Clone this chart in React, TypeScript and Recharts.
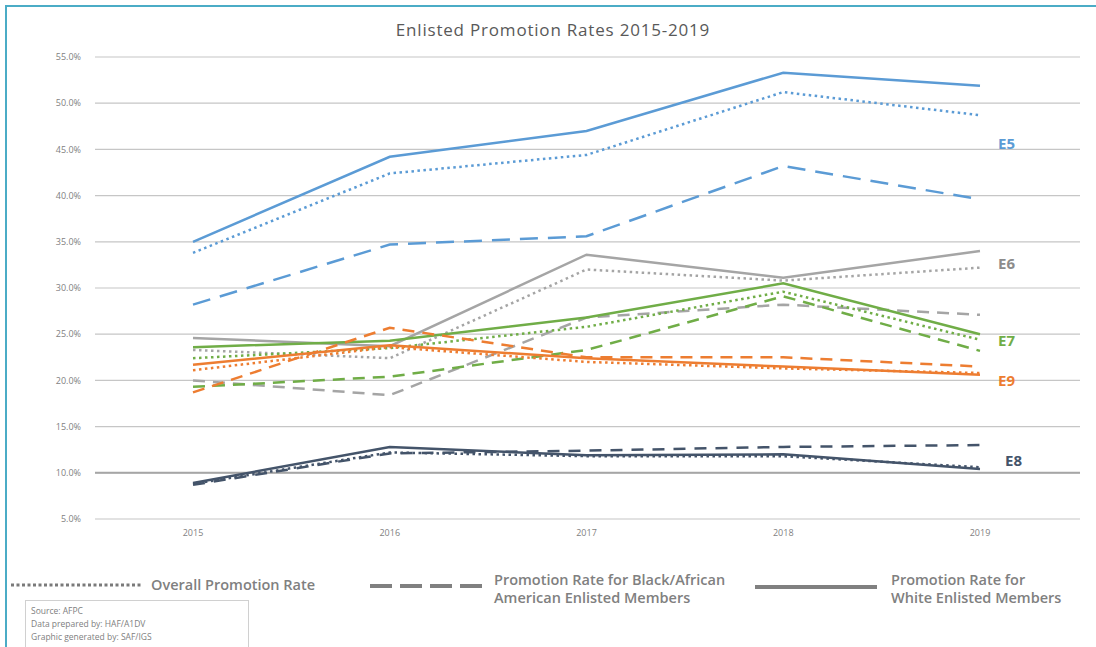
import { LineChart, Line, XAxis, YAxis, CartesianGrid, ReferenceLine, ReferenceDot } from 'recharts';

const years = ['2015', '2016', '2017', '2018', '2019'];
const yTicks = [5, 10, 15, 20, 25, 30, 35, 40, 45, 50, 55];

const e5Overall = [33.8, 42.4, 44.4, 51.2, 48.7];
const e5Black = [28.2, 34.7, 35.6, 43.2, 39.6];
const e5White = [35.0, 44.2, 47.0, 53.3, 51.9];
const e6Overall = [23.3, 22.4, 32.0, 30.8, 32.2];
const e6Black = [20.0, 18.4, 26.8, 28.2, 27.1];
const e6White = [24.6, 23.7, 33.6, 31.1, 34.0];
const e7Overall = [22.4, 23.5, 25.8, 29.6, 24.4];
const e7Black = [19.3, 20.4, 23.3, 29.1, 23.2];
const e7White = [23.6, 24.3, 26.8, 30.5, 25.0];
const e9Overall = [21.1, 23.6, 22.0, 21.3, 20.8];
const e9Black = [18.7, 25.7, 22.5, 22.5, 21.5];
const e9White = [21.7, 23.8, 22.4, 21.5, 20.6];
const e8Overall = [8.8, 12.2, 11.8, 11.8, 10.6];
const e8Black = [8.7, 12.1, 12.4, 12.8, 13.0];
const e8White = [8.9, 12.8, 11.9, 12.0, 10.4];

// grade tags at the right end of each group
const gradeTags = [
  { name: 'E5', value: 45.6, color: '#5B9BD5', dx: 18 },
  { name: 'E6', value: 32.6, color: '#8C8C8C', dx: 18 },
  { name: 'E7', value: 24.3, color: '#70AD47', dx: 18 },
  { name: 'E9', value: 20.0, color: '#ED7D31', dx: 18 },
  { name: 'E8', value: 11.3, color: '#44546A', dx: 25 },
];

const data = years.map((year, i) => ({
  year,
  e5Overall: e5Overall[i], e5Black: e5Black[i], e5White: e5White[i],
  e6Overall: e6Overall[i], e6Black: e6Black[i], e6White: e6White[i],
  e7Overall: e7Overall[i], e7Black: e7Black[i], e7White: e7White[i],
  e9Overall: e9Overall[i], e9Black: e9Black[i], e9White: e9White[i],
  e8Overall: e8Overall[i], e8Black: e8Black[i], e8White: e8White[i],
}));

const DOT = '2.5 3.5';

interface SeriesDef {
  key: string;
  color: string;
  dash?: string;
  width: number;
}

const series: SeriesDef[] = [
  { key: 'e6Black', color: '#A5A5A5', dash: '12 8', width: 2.5 },
  { key: 'e6Overall', color: '#A5A5A5', dash: DOT, width: 2.5 },
  { key: 'e6White', color: '#A5A5A5', width: 2.5 },
  { key: 'e7Black', color: '#70AD47', dash: '12 8', width: 2.5 },
  { key: 'e7Overall', color: '#70AD47', dash: DOT, width: 2.5 },
  { key: 'e7White', color: '#70AD47', width: 2.5 },
  { key: 'e9Black', color: '#ED7D31', dash: '12 8', width: 2.5 },
  { key: 'e9Overall', color: '#ED7D31', dash: DOT, width: 2.5 },
  { key: 'e9White', color: '#ED7D31', width: 2.5 },
  { key: 'e5Black', color: '#5B9BD5', dash: '18 10', width: 2.5 },
  { key: 'e5Overall', color: '#5B9BD5', dash: DOT, width: 2.5 },
  { key: 'e5White', color: '#5B9BD5', width: 2.5 },
  { key: 'e8Black', color: '#44546A', dash: '12 9', width: 2.5 },
  { key: 'e8Overall', color: '#44546A', dash: DOT, width: 2.5 },
  { key: 'e8White', color: '#44546A', width: 2.5 },
];

const legendText = {
  position: 'absolute' as const,
  fontFamily: 'Open Sans, sans-serif',
  fontWeight: 600,
  fontSize: 14.5,
  color: '#808080',
  lineHeight: '18px',
};

export default function App() {
  return (
    <div style={{ position: 'absolute', left: 0, top: 0, width: 1096, height: 647, background: '#fff', overflow: 'hidden' }}>
      <div style={{ position: 'absolute', left: 5, top: 5, width: 1100, height: 2, background: '#4BACC6' }} />
      <div style={{ position: 'absolute', left: 5, top: 5, width: 2, height: 660, background: '#4BACC6' }} />
      <div
        style={{
          position: 'absolute', left: 0, top: 18, width: 1106, textAlign: 'center',
          fontFamily: 'Open Sans, sans-serif', fontSize: 17, letterSpacing: 0.8, color: '#595959',
        }}
      >
        Enlisted Promotion Rates 2015-2019
      </div>
      <LineChart
        width={1096}
        height={647}
        data={data}
        margin={{ top: 57, right: 16, left: 55, bottom: 98 }}
        style={{ position: 'absolute', left: 0, top: 0 }}
      >
        <CartesianGrid vertical={false} stroke="#C6C6C6" strokeWidth={1.2} />
        <XAxis
          dataKey="year"
          padding={{ left: 98, right: 100 }}
          axisLine={false}
          tickLine={false}
          tickSize={6}
          tickMargin={5}
          height={30}
          tick={{ fill: '#7F7F7F', fontSize: 9, fontFamily: 'Open Sans, sans-serif' }}
        />
        <YAxis
          domain={[5, 55]}
          ticks={yTicks}
          width={40}
          axisLine={false}
          tickLine={false}
          tickSize={6}
          tickMargin={8}
          tickFormatter={(v: number) => `${v.toFixed(1)}%`}
          tick={{ fill: '#7F7F7F', fontSize: 9, fontFamily: 'Open Sans, sans-serif' }}
        />
        <ReferenceLine y={10} stroke="#A6A6A6" strokeWidth={2} />
        {series.map((s) => (
          <Line
            key={s.key}
            type="linear"
            dataKey={s.key}
            stroke={s.color}
            strokeWidth={s.width}
            strokeDasharray={s.dash}
            dot={false}
            activeDot={false}
            isAnimationActive={false}
          />
        ))}
        {gradeTags.map((t) => (
          <ReferenceDot
            key={t.name}
            x="2019"
            y={t.value}
            r={0}
            fill="none"
            stroke="none"
            label={(props: any) => {
              const vb = props.viewBox || {};
              const cx = (vb.x ?? 0) + (vb.width ?? 0) / 2;
              const cy = (vb.y ?? 0) + (vb.height ?? 0) / 2;
              return (
                <text
                  x={cx + t.dx}
                  y={cy}
                  dy="0.35em"
                  fill={t.color}
                  fontSize={15}
                  fontWeight={700}
                  fontFamily="Open Sans, sans-serif"
                >
                  {t.name}
                </text>
              );
            }}
          />
        ))}
      </LineChart>

      {/* legend */}
      <svg style={{ position: 'absolute', left: 0, top: 570 }} width={1096} height={40}>
        <line x1={11} y1={15} x2={143} y2={15} stroke="#7A7A7A" strokeWidth={3} strokeDasharray="3 2.5" />
        <line x1={370} y1={16} x2={482} y2={16} stroke="#808080" strokeWidth={4} strokeDasharray="22 8" />
        <line x1={755} y1={17} x2={877} y2={17} stroke="#808080" strokeWidth={4} />
      </svg>
      <div style={{ ...legendText, left: 151, top: 576 }}>Overall Promotion Rate</div>
      <div style={{ ...legendText, left: 494, top: 571 }}>
        Promotion Rate for Black/African
        <br />
        American Enlisted Members
      </div>
      <div style={{ ...legendText, left: 891, top: 571 }}>
        Promotion Rate for
        <br />
        White Enlisted Members
      </div>

      {/* source box */}
      <div
        style={{
          position: 'absolute', left: 25, top: 600, width: 224, height: 60,
          border: '1px solid #D0D0D0', boxSizing: 'border-box', padding: '3px 5px',
          fontFamily: 'Open Sans, sans-serif', fontSize: 8.5, lineHeight: '13px', color: '#808080',
        }}
      >
        Source: AFPC
        <br />
        Data prepared by: HAF/A1DV
        <br />
        Graphic generated by: SAF/IGS
      </div>
    </div>
  );
}
